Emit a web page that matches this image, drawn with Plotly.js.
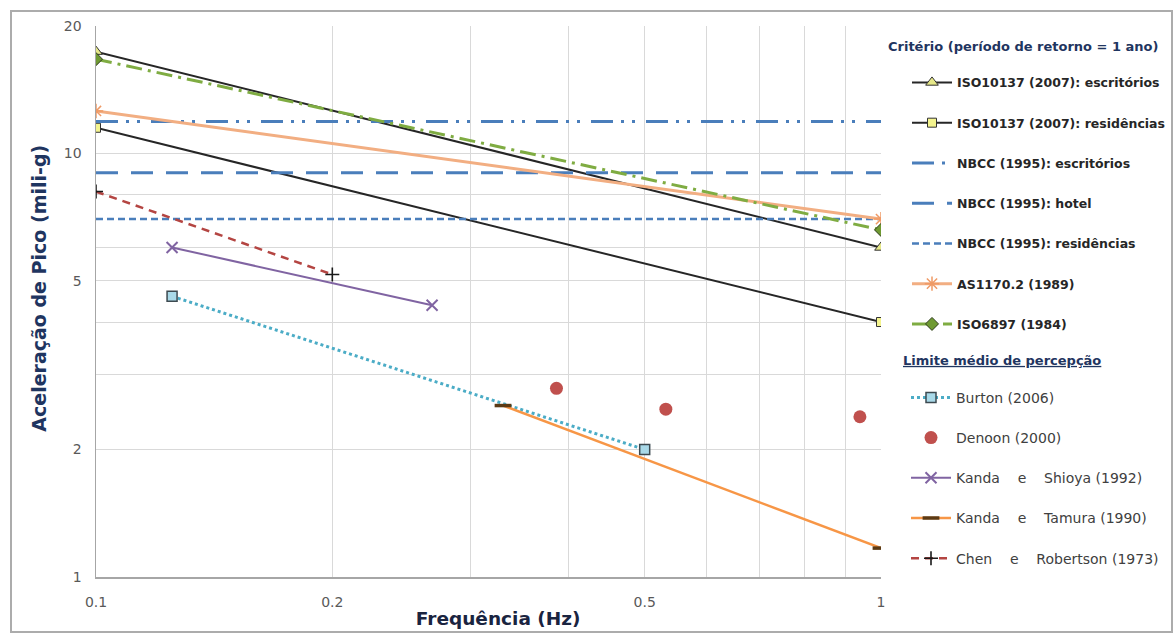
<!DOCTYPE html>
<html>
<head>
<meta charset="utf-8">
<script src="https://cdn.plot.ly/plotly-3.0.1.min.js"></script>
<style>
  html, body { margin: 0; padding: 0; background: #ffffff; }
  #wrap { position: relative; width: 1175px; height: 633px; }
  #chart { width: 1175px; height: 633px; }
  #frame { position: absolute; left: 10px; top: 10px; width: 1163px; height: 623px;
           border: 2px solid #acacac; pointer-events: none; box-sizing: border-box; }
</style>
</head>
<body>
<div id="wrap"><div id="chart"></div><div id="frame"></div></div>
<script>
// ---- data ----
const freqCriteria = [0.1, 1];
const iso10137Escritorios = [17.4, 6.0];
const iso10137Residencias = [11.5, 4.0];
const nbccEscritorios = [11.9, 11.9];
const nbccHotel = [9.0, 9.0];
const nbccResidencias = [7.0, 7.0];
const as1170 = [12.6, 7.0];
const iso6897 = [16.7, 6.6];

const burtonFreq = [0.125, 0.5];
const burtonAcc = [4.6, 2.0];
const denoonFreq = [0.386, 0.532, 0.94];
const denoonAcc = [2.79, 2.49, 2.39];
const shioyaFreq = [0.125, 0.268];
const shioyaAcc = [6.0, 4.38];
const tamuraFreq = [0.33, 1.0];
const tamuraAcc = [2.54, 1.17];
const chenFreq = [0.1, 0.2];
const chenAcc = [8.13, 5.18];

const xTickVals = [0.1, 0.2, 0.3, 0.4, 0.5, 0.6, 0.7, 0.8, 0.9, 1];
const xTickText = ['0.1', '0.2', '', '', '0.5', '', '', '', '', '1'];
const yTickVals = [1, 2, 3, 4, 5, 6, 8, 10, 20];
const yTickText = ['1', '2', '', '', '5', '', '', '10', '20'];

const sp = '\u00a0\u00a0\u00a0\u00a0';
const names = {
  isoEsc: 'ISO10137 (2007): escritórios',
  isoRes: 'ISO10137 (2007): residências',
  nbccEsc: 'NBCC (1995): escritórios',
  nbccHot: 'NBCC (1995): hotel',
  nbccRes: 'NBCC (1995): residências',
  as: 'AS1170.2 (1989)',
  iso6897: 'ISO6897 (1984)',
  burton: 'Burton (2006)',
  denoon: 'Denoon (2000)',
  shioya: 'Kanda' + sp + 'e' + sp + 'Shioya (1992)',
  tamura: 'Kanda' + sp + 'e' + sp + 'Tamura (1990)',
  chen: 'Chen' + sp + 'e' + sp + 'Robertson (1973)'
};
const legendTitle1 = 'Critério (período de retorno = 1 ano)';
const legendTitle2 = 'Limite médio de percepção';
const xTitle = 'Frequência (Hz)';
const yTitle = 'Aceleração de Pico (mili-g)';

const traces = [
  { x: freqCriteria, y: iso10137Escritorios, name: names.isoEsc, mode: 'lines+markers',
    line: { color: '#262626', width: 2 },
    marker: { symbol: 'triangle-up', size: 11, color: '#e6e889', line: { color: '#333333', width: 1 } },
    legend: 'legend', legendgroup: 'g1' },
  { x: freqCriteria, y: iso10137Residencias, name: names.isoRes, mode: 'lines+markers',
    line: { color: '#262626', width: 2 },
    marker: { symbol: 'square', size: 9, color: '#f4f48e', line: { color: '#333333', width: 1 } },
    legend: 'legend', legendgroup: 'g2' },
  { x: freqCriteria, y: nbccEscritorios, name: names.nbccEsc, mode: 'lines',
    line: { color: '#4a7ebb', width: 3, dash: '22px,8px,3px,8px,3px,11px' },
    legend: 'legend', legendgroup: 'g3' },
  { x: freqCriteria, y: nbccHotel, name: names.nbccHot, mode: 'lines',
    line: { color: '#4a7ebb', width: 3, dash: '22px,13px' },
    legend: 'legend', legendgroup: 'g4' },
  { x: freqCriteria, y: nbccResidencias, name: names.nbccRes, mode: 'lines',
    line: { color: '#4a7ebb', width: 2.5, dash: '7px,4px' },
    legend: 'legend', legendgroup: 'g5' },
  { x: freqCriteria, y: as1170, name: names.as, mode: 'lines+markers',
    line: { color: '#f2ae82', width: 3 },
    marker: { symbol: 'asterisk-open', size: 12, color: '#ef9a66', line: { color: '#ef9a66', width: 1.5 } },
    legend: 'legend', legendgroup: 'g6' },
  { x: freqCriteria, y: iso6897, name: names.iso6897, mode: 'lines+markers',
    line: { color: '#7fac42', width: 3, dash: '16px,6px,3px,6px' },
    marker: { symbol: 'diamond', size: 10, color: '#6f9a32', line: { color: '#2e3b1c', width: 1 } },
    legend: 'legend', legendgroup: 'g7' },

  { x: burtonFreq, y: burtonAcc, name: names.burton, mode: 'lines+markers',
    line: { color: '#4bacc6', width: 3, dash: 'dot' },
    marker: { symbol: 'square', size: 10, color: '#a9d9e8', line: { color: '#3d4a50', width: 1.5 } },
    legend: 'legend2', legendgroup: 'h1' },
  { x: denoonFreq, y: denoonAcc, name: names.denoon, mode: 'markers',
    marker: { symbol: 'circle', size: 13, color: '#c0504d' },
    legend: 'legend2', legendgroup: 'h2' },
  { x: shioyaFreq, y: shioyaAcc, name: names.shioya, mode: 'lines+markers',
    line: { color: '#8064a2', width: 2 },
    marker: { symbol: 'x-thin-open', size: 11, color: '#8064a2', line: { color: '#8064a2', width: 2 } },
    legend: 'legend2', legendgroup: 'h3' },
  { x: tamuraFreq, y: tamuraAcc, name: names.tamura, mode: 'lines+markers',
    line: { color: '#f79646', width: 2.5 },
    marker: { symbol: 'line-ew-open', size: 12, color: '#5c3a14', line: { color: '#5c3a14', width: 3.5 } },
    legend: 'legend2', legendgroup: 'h4' },
  { x: chenFreq, y: chenAcc, name: names.chen, mode: 'lines+markers',
    line: { color: '#b44542', width: 2.5, dash: '8px,6px' },
    marker: { symbol: 'cross-thin-open', size: 10, color: '#1a1a1a', line: { color: '#1a1a1a', width: 1.6 } },
    legend: 'legend2', legendgroup: 'h5' }
];

const tickFont = { family: 'DejaVu Sans', size: 14, color: '#595959' };
const titleColor = '#1f3560';
const pad = n => '<span>' + '\u00a0'.repeat(n) + '</span>';

const layout = {
  width: 1175, height: 633,
  margin: { l: 96, r: 294, t: 26, b: 56 },
  paper_bgcolor: '#ffffff', plot_bgcolor: '#ffffff',
  showlegend: true,
  xaxis: {
    type: 'log', range: [-1, 0],
    tickmode: 'array', tickvals: xTickVals, ticktext: xTickText,
    tickfont: tickFont, ticklabelstandoff: 12,
    showgrid: true, gridcolor: '#d9d9d9', gridwidth: 1,
    showline: true, linecolor: '#a6a6a6', linewidth: 1.5,
    zeroline: false, ticks: '',
    title: { text: pad(3) + xTitle, standoff: 3,
             font: { family: 'DejaVu Sans', size: 18.5, color: '#1a2440', weight: 'bold' } }
  },
  yaxis: {
    type: 'log', range: [0, Math.log10(20)],
    tickmode: 'array', tickvals: yTickVals, ticktext: yTickText,
    tickfont: tickFont, ticklabelstandoff: 10,
    showgrid: true, gridcolor: '#d9d9d9', gridwidth: 1,
    showline: true, linecolor: '#a6a6a6', linewidth: 1.5,
    zeroline: false, ticks: '',
    title: { text: pad(4) + yTitle, standoff: 12,
             font: { family: 'DejaVu Sans', size: 19, color: titleColor, weight: 'bold' } }
  },
  legend: {
    xref: 'container', yref: 'container',
    x: 886 / 1175, xanchor: 'left', y: 1 - 34 / 633, yanchor: 'top',
    bgcolor: 'rgba(0,0,0,0)', borderwidth: 0,
    traceorder: 'grouped', tracegroupgap: 21, indentation: 21, itemwidth: 40,
    font: { family: 'DejaVu Sans', size: 12.5, color: '#262626', weight: 'bold' },
    title: { text: legendTitle1 + '<br>\u00a0',
             font: { family: 'DejaVu Sans', size: 13, color: titleColor, weight: 'bold' } }
  },
  legend2: {
    xref: 'container', yref: 'container',
    x: 901 / 1175, xanchor: 'left', y: 1 - 348 / 633, yanchor: 'top',
    bgcolor: 'rgba(0,0,0,0)', borderwidth: 0,
    traceorder: 'grouped', tracegroupgap: 19, indentation: 5, itemwidth: 40,
    font: { family: 'DejaVu Sans', size: 14, color: '#404040' },
    title: { text: '<span style="text-decoration:underline">' + legendTitle2 + '</span><br>\u00a0',
             font: { family: 'DejaVu Sans', size: 13, color: titleColor, weight: 'bold' } }
  }
};

Plotly.newPlot('chart', traces, layout, { staticPlot: true, displayModeBar: false });
</script>
</body>
</html>
